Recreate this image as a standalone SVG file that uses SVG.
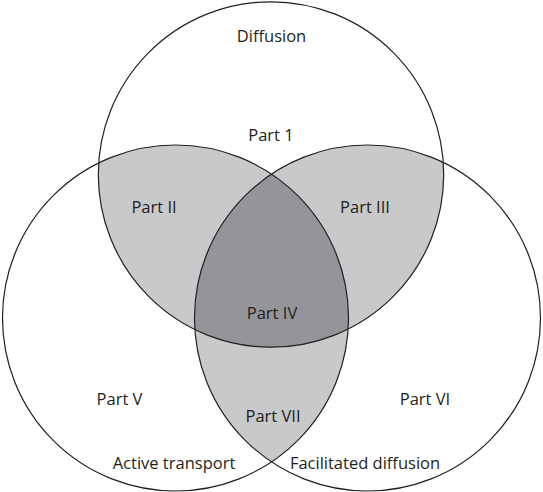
<svg xmlns="http://www.w3.org/2000/svg" width="543" height="492" viewBox="0 0 543 492">
<style>
.ring{fill:none;stroke:#231f20;stroke-width:1.2}
.light{fill:#c8c9cb}
.dark{fill:#949598}
text{font-family:"Open Sans","Liberation Sans",sans-serif;font-size:16.5px;fill:#231f20;text-anchor:middle}
</style>
<defs>
<clipPath id="clipT"><circle cx="271" cy="174.5" r="172.7"/></clipPath>
<clipPath id="clipL"><circle cx="175.5" cy="318" r="173"/></clipPath>
<clipPath id="clipR"><circle cx="367.5" cy="318" r="173"/></clipPath>
</defs>
<rect width="543" height="492" fill="#ffffff"/>
<g id="fills">
<circle class="light" cx="271" cy="174.5" r="172.7" clip-path="url(#clipL)"/>
<circle class="light" cx="271" cy="174.5" r="172.7" clip-path="url(#clipR)"/>
<circle class="light" cx="175.5" cy="318" r="173" clip-path="url(#clipR)"/>
<g clip-path="url(#clipL)"><circle class="dark" cx="271" cy="174.5" r="172.7" clip-path="url(#clipR)"/></g>
</g>
<g id="diffusion">
<circle class="ring" cx="271" cy="174.5" r="172.7"/>
<text x="271.5" y="42.3">Diffusion</text>
</g>
<g id="active-transport">
<circle class="ring" cx="175.5" cy="318" r="173"/>
<text x="174" y="468.5">Active transport</text>
</g>
<g id="facilitated-diffusion">
<circle class="ring" cx="367.5" cy="318" r="173"/>
<text x="365" y="468.5">Facilitated diffusion</text>
</g>
<g id="part-1"><text x="271" y="141">Part 1</text></g>
<g id="part-2"><text x="154" y="213">Part II</text></g>
<g id="part-3"><text x="365" y="213">Part III</text></g>
<g id="part-4"><text x="272" y="319">Part IV</text></g>
<g id="part-5"><text x="119.5" y="405">Part V</text></g>
<g id="part-6"><text x="425" y="405">Part VI</text></g>
<g id="part-7"><text x="273" y="422">Part VII</text></g>
<g id="connectors"/>
</svg>
